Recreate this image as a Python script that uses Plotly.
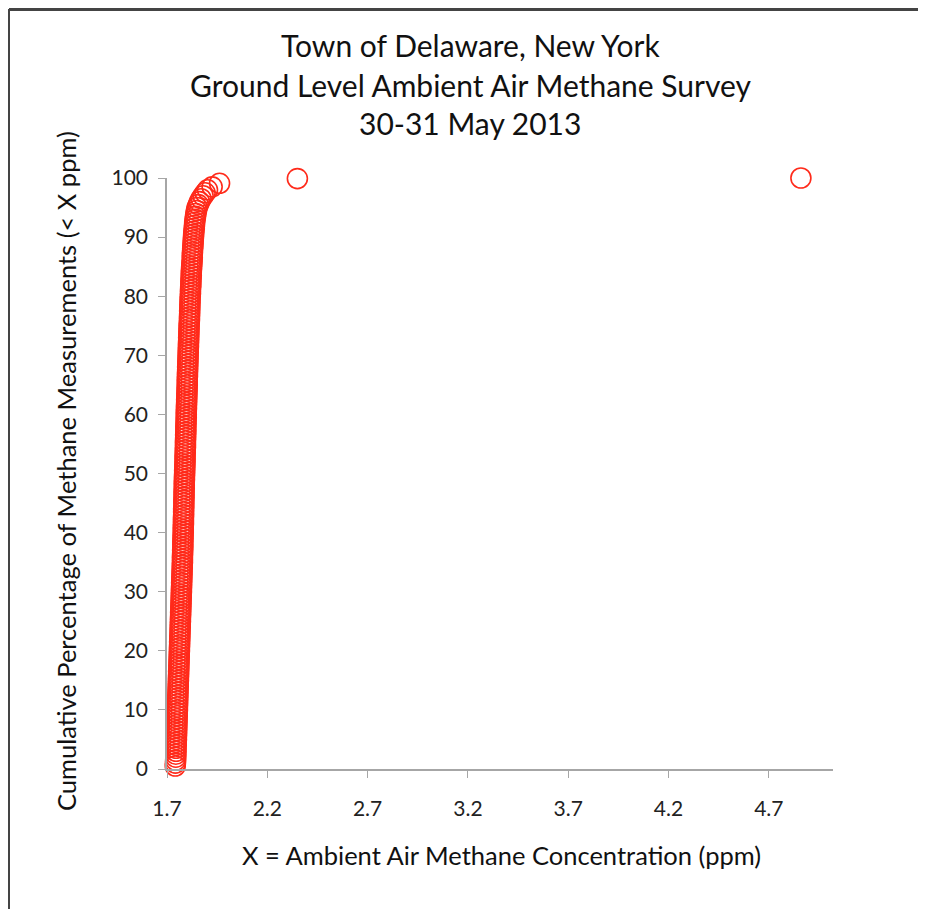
import plotly.graph_objects as go

# Ambient air methane concentration (ppm), sorted measurements
methane_ppm = [
    1.741, 1.742, 1.743, 1.744, 1.744, 1.745, 1.745, 1.746, 1.746, 1.747,
    1.747, 1.748, 1.748, 1.749, 1.749, 1.750, 1.750, 1.751, 1.751, 1.752,
    1.752, 1.753, 1.753, 1.754, 1.754, 1.755, 1.755, 1.756, 1.756, 1.757,
    1.757, 1.758, 1.758, 1.759, 1.759, 1.760, 1.760, 1.761, 1.761, 1.762,
    1.762, 1.763, 1.763, 1.764, 1.764, 1.765, 1.765, 1.766, 1.766, 1.767,
    1.767, 1.768, 1.768, 1.769, 1.769, 1.770, 1.770, 1.771, 1.771, 1.772,
    1.772, 1.773, 1.773, 1.774, 1.774, 1.775, 1.775, 1.776, 1.776, 1.777,
    1.777, 1.777, 1.778, 1.778, 1.779, 1.779, 1.779, 1.780, 1.780, 1.781,
    1.781, 1.781, 1.782, 1.782, 1.782, 1.783, 1.783, 1.783, 1.784, 1.784,
    1.784, 1.785, 1.785, 1.785, 1.786, 1.786, 1.786, 1.787, 1.787, 1.788,
    1.788, 1.789, 1.789, 1.790, 1.790, 1.790, 1.791, 1.791, 1.792, 1.792,
    1.792, 1.793, 1.793, 1.794, 1.794, 1.794, 1.795, 1.795, 1.796, 1.796,
    1.796, 1.797, 1.797, 1.798, 1.798, 1.799, 1.799, 1.800, 1.800, 1.801,
    1.801, 1.801, 1.802, 1.802, 1.803, 1.803, 1.804, 1.804, 1.805, 1.805,
    1.806, 1.806, 1.807, 1.807, 1.808, 1.808, 1.809, 1.809, 1.810, 1.810,
    1.811, 1.812, 1.812, 1.813, 1.813, 1.814, 1.814, 1.815, 1.815, 1.816,
    1.817, 1.817, 1.818, 1.819, 1.819, 1.820, 1.821, 1.821, 1.822, 1.823,
    1.824, 1.825, 1.826, 1.826, 1.827, 1.828, 1.829, 1.830, 1.831, 1.832,
    1.833, 1.834, 1.836, 1.837, 1.838, 1.840, 1.842, 1.844, 1.847, 1.850,
    1.856, 1.862, 1.870, 1.880, 1.890, 1.902, 1.925, 1.962, 2.350, 4.860,
]

# Cumulative percentage of measurements (< X ppm)
cumulative_pct = [
    0.5, 1.0, 1.5, 2.0, 2.5, 3.0, 3.5, 4.0, 4.5, 5.0,
    5.5, 6.0, 6.5, 7.0, 7.5, 8.0, 8.5, 9.0, 9.5, 10.0,
    10.5, 11.0, 11.5, 12.0, 12.5, 13.0, 13.5, 14.0, 14.5, 15.0,
    15.5, 16.0, 16.5, 17.0, 17.5, 18.0, 18.5, 19.0, 19.5, 20.0,
    20.5, 21.0, 21.5, 22.0, 22.5, 23.0, 23.5, 24.0, 24.5, 25.0,
    25.5, 26.0, 26.5, 27.0, 27.5, 28.0, 28.5, 29.0, 29.5, 30.0,
    30.5, 31.0, 31.5, 32.0, 32.5, 33.0, 33.5, 34.0, 34.5, 35.0,
    35.5, 36.0, 36.5, 37.0, 37.5, 38.0, 38.5, 39.0, 39.5, 40.0,
    40.5, 41.0, 41.5, 42.0, 42.5, 43.0, 43.5, 44.0, 44.5, 45.0,
    45.5, 46.0, 46.5, 47.0, 47.5, 48.0, 48.5, 49.0, 49.5, 50.0,
    50.5, 51.0, 51.5, 52.0, 52.5, 53.0, 53.5, 54.0, 54.5, 55.0,
    55.5, 56.0, 56.5, 57.0, 57.5, 58.0, 58.5, 59.0, 59.5, 60.0,
    60.5, 61.0, 61.5, 62.0, 62.5, 63.0, 63.5, 64.0, 64.5, 65.0,
    65.5, 66.0, 66.5, 67.0, 67.5, 68.0, 68.5, 69.0, 69.5, 70.0,
    70.5, 71.0, 71.5, 72.0, 72.5, 73.0, 73.5, 74.0, 74.5, 75.0,
    75.5, 76.0, 76.5, 77.0, 77.5, 78.0, 78.5, 79.0, 79.5, 80.0,
    80.5, 81.0, 81.5, 82.0, 82.5, 83.0, 83.5, 84.0, 84.5, 85.0,
    85.5, 86.0, 86.5, 87.0, 87.5, 88.0, 88.5, 89.0, 89.5, 90.0,
    90.5, 91.0, 91.5, 92.0, 92.5, 93.0, 93.5, 94.0, 94.5, 95.0,
    95.5, 96.0, 96.5, 97.0, 97.5, 98.0, 98.5, 99.1, 99.9, 100.0,
]

x_ticks = [1.7, 2.2, 2.7, 3.2, 3.7, 4.2, 4.7]
y_ticks = [0, 10, 20, 30, 40, 50, 60, 70, 80, 90, 100]

title_lines = [
    "Town of Delaware, New York",
    "Ground Level Ambient Air Methane Survey",
    "30-31 May 2013",
]
x_title = "X = Ambient Air Methane Concentration (ppm)"
y_title = "Cumulative Percentage of Methane Measurements (< X ppm)"

FONT = "Lato"
OFF = 8  # page body margin
W, H = 926 - OFF, 909 - OFF
# plot area box in page pixels
L, R, T, B = 167 - OFF, 833 - OFF, 178 - OFF, 769 - OFF
pw, ph = R - L, B - T


def px(xp):
    return (xp - OFF - L) / pw


def py(yp):
    return (B - (yp - OFF)) / ph


fig = go.Figure()
fig.add_trace(go.Scatter(
    x=methane_ppm,
    y=cumulative_pct,
    mode="markers",
    cliponaxis=False,
    marker=dict(symbol="circle-open", size=20, color="#FF2A1A",
                line=dict(width=1.6, color="#FF2A1A")),
    showlegend=False,
    hoverinfo="x+y",
))

axis_common = dict(
    showgrid=False, zeroline=False, showline=True,
    linecolor="#A6A6A6", linewidth=1.5,
    ticks="outside", ticklen=7, tickcolor="#A6A6A6", tickwidth=1.2,
    tickfont=dict(family=FONT, size=21, color="#222222"),
)

fig.update_layout(
    width=W, height=H,
    margin=dict(l=L, r=W - R, t=T, b=H - B, pad=0),
    paper_bgcolor="white", plot_bgcolor="white",
    xaxis=dict(range=[1.7, 5.02], tickvals=x_ticks,
               ticktext=[f"{v:.1f}" for v in x_ticks],
               ticklabelstandoff=13, **axis_common),
    yaxis=dict(range=[0, 100], tickvals=y_ticks,
               ticklabelstandoff=6, **axis_common),
)

title_y = [45, 85, 123]
for txt, yp in zip(title_lines, title_y):
    fig.add_annotation(text=txt, x=px(470), y=py(yp), xref="paper", yref="paper",
                       xanchor="center", yanchor="middle", showarrow=False,
                       font=dict(family=FONT, size=30, color="#111111"))

fig.add_annotation(text=x_title, x=px(501), y=py(855), xref="paper", yref="paper",
                   xanchor="center", yanchor="middle", showarrow=False,
                   font=dict(family=FONT, size=25.5, color="#111111"))
fig.add_annotation(text=y_title, x=px(66), y=py(471), xref="paper", yref="paper",
                   xanchor="center", yanchor="middle", showarrow=False, textangle=-90,
                   font=dict(family=FONT, size=25.5, color="#111111"))

# window frame lines (left and top dark)
fig.add_shape(type="line", xref="paper", yref="paper",
              x0=px(9), x1=px(9), y0=py(9), y1=py(909), line=dict(color="#444444", width=2))
fig.add_shape(type="line", xref="paper", yref="paper",
              x0=px(9), x1=px(926), y0=py(9.5), y1=py(9.5), line=dict(color="#444444", width=3))

fig.write_html("out.html")
